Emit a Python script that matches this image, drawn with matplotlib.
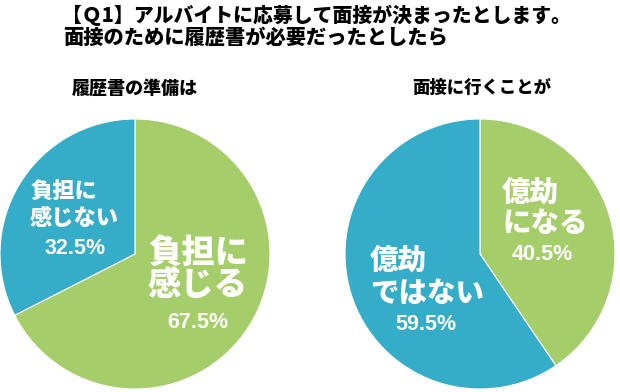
import matplotlib
matplotlib.use("Agg")
import matplotlib.pyplot as plt

plt.rcParams['font.family'] = ['Noto Sans CJK JP', 'DejaVu Sans']

title_lines = ["【Ｑ1】アルバイトに応募して面接が決まったとします。",
               "面接のために履歴書が必要だったとしたら"]
subtitles = ["履歴書の準備は", "面接に行くことが"]

left_labels = ["負担に\n感じる", "負担に\n感じない"]
left_values = [67.5, 32.5]
right_labels = ["億劫\nになる", "億劫\nではない"]
right_values = [40.5, 59.5]

GREEN = "#A5CE6B"
BLUE = "#35ADC8"

W, H = 620, 392
fig = plt.figure(figsize=(6.2, 3.92), dpi=100)
ax = fig.add_axes([0, 0, 1, 1])

def Y(p):
    return H - p

R = 135
ax.pie(left_values, colors=[GREEN, BLUE], startangle=90, counterclock=False,
       center=(135, Y(254)), radius=R,
       wedgeprops=dict(edgecolor="white", linewidth=0.8))
ax.pie(right_values, colors=[GREEN, BLUE], startangle=90, counterclock=False,
       center=(480, Y(254)), radius=R,
       wedgeprops=dict(edgecolor="white", linewidth=0.8))

ax.set_xlim(0, W)
ax.set_ylim(0, H)
ax.set_aspect('auto')
ax.axis('off')

WT = 900
# titles
ax.text(62, Y(15), title_lines[0], fontsize=14.3, fontweight=WT, ha='left', va='center', color='black')
ax.text(63, Y(38), title_lines[1], fontsize=14.6, fontweight=WT, ha='left', va='center', color='black')
ax.text(72, Y(88), subtitles[0], fontsize=13, fontweight=WT, ha='left', va='center', color='black')
ax.text(412, Y(88), subtitles[1], fontsize=12.5, fontweight=WT, ha='left', va='center', color='black')

def label(x, y1, dy, text, size, pct, px, py, psize):
    lines = text.split("\n")
    for i, ln in enumerate(lines):
        ax.text(x, Y(y1 + i * dy), ln, fontsize=size, fontweight=WT, color='white',
                ha='left', va='center')
    ax.text(px, Y(py), f"{pct}%", fontsize=psize, fontweight='bold', color='white',
            ha='center', va='center', family=['Liberation Sans', 'DejaVu Sans'])

# left pie labels
label(148, 252, 33, left_labels[0], 24, left_values[0], 198, 322, 15.5)
label(30, 192, 26, left_labels[1], 16, left_values[1], 75, 248, 15.5)
# right pie labels
label(502, 192, 31, right_labels[0], 20.5, right_values[0], 542, 255, 15.5)
label(370, 260, 33, right_labels[1], 20.5, right_values[1], 426, 325, 15.5)

fig.savefig("out.png", dpi=100)
